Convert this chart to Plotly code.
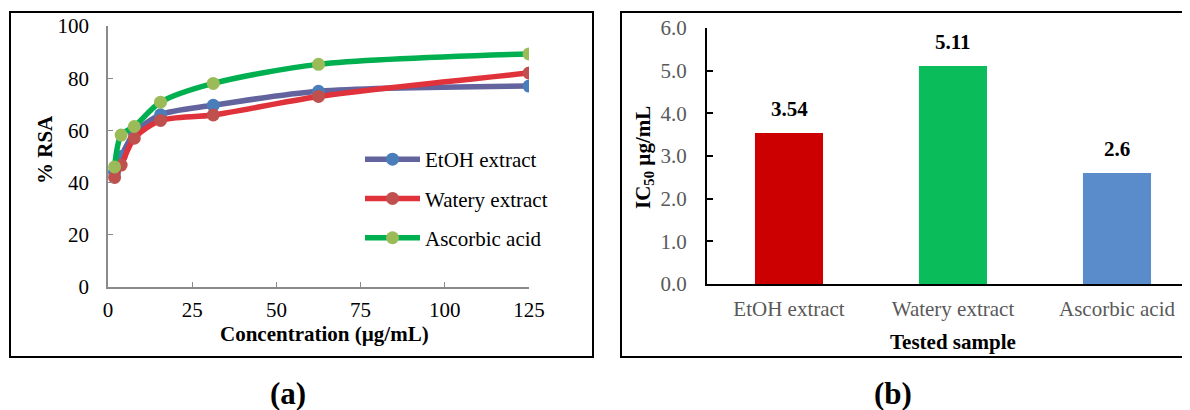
import plotly.graph_objects as go

# ---------------- data ----------------
conc = [1.95, 3.9, 7.8, 15.6, 31.25, 62.5, 125]
etoh_rsa = [44.0, 50.0, 59.0, 66.0, 69.6, 75.0, 77.0]
watery_rsa = [42.0, 46.7, 57.0, 63.8, 65.9, 73.0, 82.0]
ascorbic_rsa = [46.0, 58.2, 61.5, 70.8, 78.0, 85.3, 89.3]

samples = ["EtOH extract", "Watery extract", "Ascorbic acid"]
ic50 = [3.54, 5.11, 2.6]
ic50_text = ["3.54", "5.11", "2.6"]

FONT = "Liberation Serif"
FS = 21

fig = go.Figure()

# ---------------- panel (a): line chart ----------------
line_series = [
    ("EtOH extract", etoh_rsa, "#63649E", "#4A7EBB"),
    ("Watery extract", watery_rsa, "#E0323A", "#C0504D"),
    ("Ascorbic acid", ascorbic_rsa, "#00B050", "#9BBB59"),
]
for i, (name, vals, lc, mc) in enumerate(line_series):
    fig.add_trace(go.Scatter(
        x=conc, y=vals, name=name, mode="lines+markers",
        line=dict(color=lc, width=5.5, shape="spline", smoothing=0.8),
        marker=dict(color=mc, size=13, line=dict(color=mc, width=0)),
        xaxis="x", yaxis="y", legendgroup=f"g{i}",
    ))

# ---------------- panel (b): bar chart ----------------
bar_colors = ["#CC0000", "#0ABD5A", "#5A8BCA"]
fig.add_trace(go.Bar(
    x=samples, y=ic50, marker=dict(color=bar_colors, line=dict(width=0)),
    width=0.415, showlegend=False, xaxis="x2", yaxis="y2",
))
for s, v, t in zip(samples, ic50, ic50_text):
    fig.add_annotation(x=s, y=v, xref="x2", yref="y2", text=f"<b>{t}</b>",
                       showarrow=False, yshift=24, yanchor="middle",
                       font=dict(family=FONT, size=FS, color="black"))

W, H = 1190, 410
OFF = 8  # page body margin
def px(x):
    return (x - OFF) / W
def py(y):
    return 1 - (y - OFF) / H

common = dict(showgrid=False, zeroline=False, automargin=False)

fig.update_layout(
    width=W, height=H,
    margin=dict(l=0, r=0, t=0, b=0),
    paper_bgcolor="white", plot_bgcolor="white",
    font=dict(family=FONT, size=FS, color="black"),
    showlegend=True,
    legend=dict(x=px(360), y=py(139), xanchor="left", yanchor="top",
                bgcolor="rgba(0,0,0,0)", font=dict(family=FONT, size=FS, color="black"),
                tracegroupgap=9, traceorder="grouped", itemwidth=55),
    xaxis=dict(domain=[px(108), px(529)], range=[0, 125], tickvals=[0, 25, 50, 75, 100, 125],
               showline=True, linecolor="#8A8A8A", linewidth=1.5, ticks="inside",
               ticklen=5, tickcolor="#8A8A8A", ticklabelstandoff=3,
               tickfont=dict(family=FONT, size=FS, color="black"),
               anchor="y", **common),
    yaxis=dict(domain=[py(287), py(26)], range=[0, 100], tickvals=[0, 20, 40, 60, 80, 100],
               showline=True, linecolor="#8A8A8A", linewidth=1.5, ticks="inside",
               ticklen=5, tickcolor="#8A8A8A", ticklabelstandoff=13,
               tickfont=dict(family=FONT, size=FS, color="black"),
               anchor="x", **common),
    xaxis2=dict(domain=[px(707), 1.0], range=[-0.5, 2.494],
                showline=True, linecolor="black", linewidth=2.2, ticks="",
                ticklabelstandoff=5,
                tickfont=dict(family=FONT, size=FS, color="#595959"),
                anchor="y2", **common),
    yaxis2=dict(domain=[py(284), py(28)], range=[0, 6], tickvals=[0, 1, 2, 3, 4, 5, 6],
                tickformat=".1f",
                showline=True, linecolor="black", linewidth=2.2, ticks="inside",
                ticklen=6, tickcolor="black", tickwidth=2, ticklabelstandoff=14,
                tickfont=dict(family=FONT, size=FS, color="#595959"),
                anchor="x2", **common),
)

# axis titles
titles = [
    ("<b>Concentration (µg/mL)</b>", 324, 334, 0),
    ("<b>% RSA</b>", 45, 150, -90),
    ("<b>Tested sample</b>", 953, 342, 0),
    ("<b>IC<sub>50</sub> µg/mL</b>", 644, 158, -90),
]
for txt, x, y, ang in titles:
    fig.add_annotation(x=px(x), y=py(y), xref="paper", yref="paper", text=txt,
                       textangle=ang, showarrow=False, xanchor="center", yanchor="middle",
                       font=dict(family=FONT, size=FS, color="black"))

# panel frames
fig.add_shape(type="rect", xref="paper", yref="paper",
              x0=px(10), x1=px(593), y0=py(357), y1=py(12),
              line=dict(color="black", width=2), layer="below")
fig.add_shape(type="rect", xref="paper", yref="paper",
              x0=px(621), x1=px(1210), y0=py(357), y1=py(12),
              line=dict(color="black", width=2), layer="below")

# panel labels
for lbl, x in (("(a)", 288), ("(b)", 893)):
    fig.add_annotation(x=px(x), y=py(393), xref="paper", yref="paper", text=f"<b>{lbl}</b>",
                       showarrow=False, xanchor="center", yanchor="middle",
                       font=dict(family=FONT, size=31, color="black"))

fig.write_html("out.html")
